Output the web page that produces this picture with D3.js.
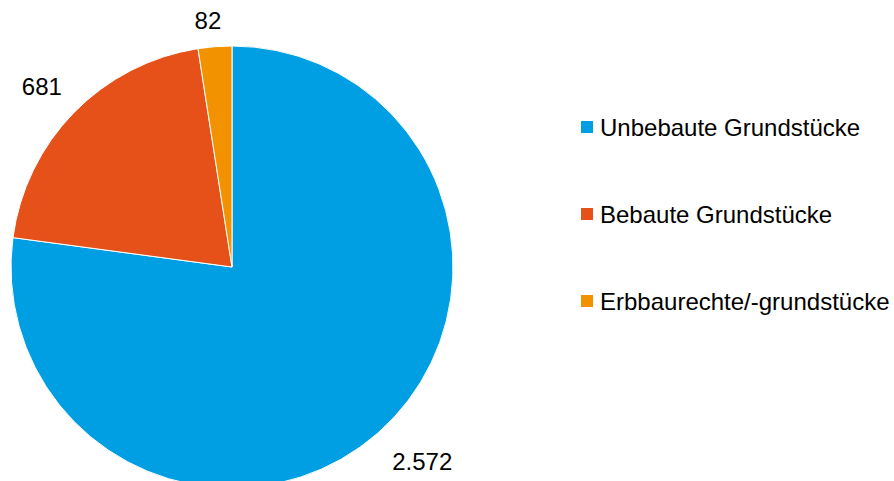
<!DOCTYPE html>
<html>
<head>
<meta charset="utf-8">
<script src="https://cdn.jsdelivr.net/npm/d3@7"></script>
<style>
  body { margin: 0; background: #fff; }
  text { font-family: "Liberation Sans", Arial, sans-serif; fill: #000; }
</style>
</head>
<body>
<svg id="chart"></svg>
<script>
"use strict";

var categories = ["Unbebaute Grundstücke", "Bebaute Grundstücke", "Erbbaurechte/-grundstücke"];
var values = [2572, 681, 82];
var valueLabels = ["2.572", "681", "82"];
var colors = ["#009FE3", "#E6511A", "#F39200"];

var width = 894
  , height = 481
  , cx = 232
  , cy = 267
  , radius = 221;

var svg = d3.select("#chart")
  .attr("width", width)
  .attr("height", height);

var pie = d3.pie().sort(null).value(function (d) { return d; });
var arcs = pie(values);

var arc = d3.arc().innerRadius(0).outerRadius(radius);

var g = svg.append("g")
  .attr("transform", "translate(" + cx + "," + cy + ")");

g.selectAll("path")
  .data(arcs)
  .enter()
  .append("path")
  .attr("d", arc)
  .attr("fill", function (d, i) { return colors[i]; })
  .attr("stroke", "#fff")
  .attr("stroke-width", 1);

// outside labels, distance from centre per slice
var labelRadius = [272, 262, 248];
var labelAngleShift = [-0.056, -0.016, -0.02];

g.selectAll("text.val")
  .data(arcs)
  .enter()
  .append("text")
  .attr("class", "val")
  .attr("x", function (d, i) {
    var a = (d.startAngle + d.endAngle) / 2 + labelAngleShift[i];
    return Math.sin(a) * labelRadius[i];
  })
  .attr("y", function (d, i) {
    var a = (d.startAngle + d.endAngle) / 2 + labelAngleShift[i];
    return -Math.cos(a) * labelRadius[i];
  })
  .attr("text-anchor", "middle")
  .attr("dominant-baseline", "central")
  .style("font-size", "24px")
  .text(function (d, i) { return valueLabels[i]; });

// legend
var legendY = d3.scalePoint().domain(categories).range([127, 301]);

var legend = svg.append("g").attr("class", "legend");

var item = legend.selectAll("g")
  .data(categories)
  .enter()
  .append("g")
  .attr("transform", function (d) { return "translate(581," + legendY(d) + ")"; });

item.append("rect")
  .attr("x", 0)
  .attr("y", -6)
  .attr("width", 12)
  .attr("height", 12)
  .attr("fill", function (d, i) { return colors[i]; });

item.append("text")
  .attr("x", 19)
  .attr("y", 0)
  .attr("dominant-baseline", "central")
  .style("font-size", "24px")
  .text(function (d) { return d; });
</script>
</body>
</html>
